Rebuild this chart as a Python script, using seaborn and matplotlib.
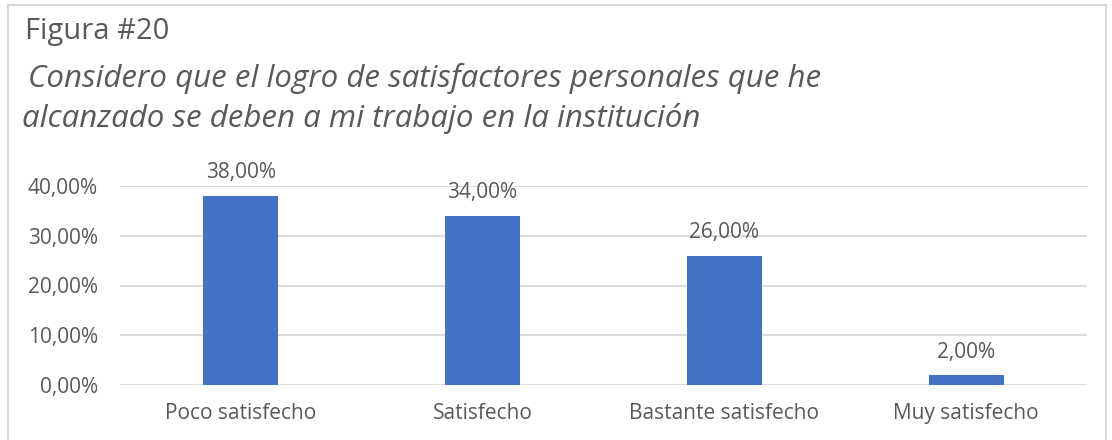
import matplotlib
matplotlib.use("Agg")
import matplotlib.pyplot as plt
import seaborn as sns
from matplotlib.patches import Rectangle
from matplotlib.ticker import FuncFormatter

# datos
categorias = ["Poco satisfecho", "Satisfecho", "Bastante satisfecho", "Muy satisfecho"]
porcentajes = [38.0, 34.0, 26.0, 2.0]
ticks_y = [0, 10, 20, 30, 40]

sns.set_style("white")
plt.rcParams["font.family"] = ["Open Sans", "DejaVu Sans"]
gris = "#595959"

fig = plt.figure(figsize=(11.12, 4.4), dpi=100)
ax = fig.add_axes([120 / 1112, 55 / 440, 967 / 1112, 199 / 440])

sns.barplot(x=categorias, y=porcentajes, color="#4472C4", width=0.31,
            saturation=1, linewidth=0, ax=ax)

ax.set_ylim(0, 40)
ax.set_yticks(ticks_y)
ax.yaxis.set_major_formatter(FuncFormatter(lambda v, p: f"{v:.2f}%".replace(".", ",")))
ax.grid(axis="y", color="#D9D9D9", lw=1.3)
ax.set_axisbelow(True)
for s in ax.spines.values():
    s.set_visible(False)
ax.tick_params(axis="both", length=0, labelsize=15, colors=gris)
ax.tick_params(axis="y", pad=16)
ax.tick_params(axis="x", pad=13)
ax.set_xlabel("")
ax.set_ylabel("")

for i, v in enumerate(porcentajes):
    ax.annotate(f"{v:.2f}%".replace(".", ","), (i, v), xytext=(0, 9),
                textcoords="offset points", ha="center", va="bottom",
                fontsize=15, color=gris)

fig.text(25 / 1112, 1 - 32 / 440, "Figura #20", fontsize=21, color=gris, va="center")
fig.text(28 / 1112, 1 - 78 / 440,
         "Considero que el logro de satisfactores personales que he",
         fontsize=22.5, color=gris, style="italic", va="center")
fig.text(22 / 1112, 1 - 118 / 440,
         "alcanzado se deben a mi trabajo en la institución",
         fontsize=22.5, color=gris, style="italic", va="center")

fig.patches.append(Rectangle((8 / 1112, -0.05), 1098 / 1112, 1 - 5 / 440 + 0.05,
                             transform=fig.transFigure, fill=False,
                             edgecolor="#D9D9D9", lw=1.5))

fig.savefig("out.png", dpi=100)
